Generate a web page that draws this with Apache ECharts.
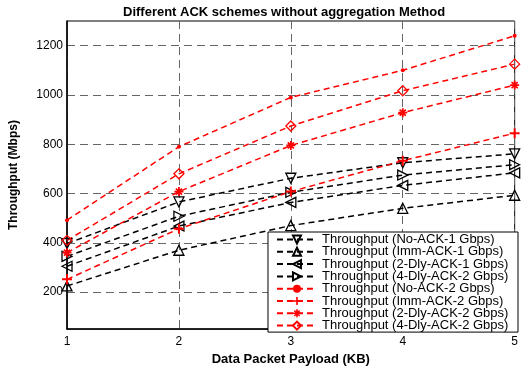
<!DOCTYPE html>
<html><head><meta charset="utf-8">
<script src="https://cdn.jsdelivr.net/npm/echarts@6/dist/echarts.min.js"></script>
<style>html,body{margin:0;padding:0;background:#fff}#c{width:521px;height:371px}</style>
</head><body><div id="c"></div>
<script>
var payloadKB = [1, 2, 3, 4, 5];
var yTicks = [200, 400, 600, 800, 1000, 1200];
var noAck1   = [397, 566, 662, 725, 761];
var immAck1  = [225, 370, 470, 540, 593];
var dly2Ack1 = [305, 468, 564, 633, 684];
var dly4Ack1 = [345, 508, 605, 675, 717];
var noAck2   = [492, 790, 990, 1100, 1240];
var immAck2  = [252, 457, 608, 733, 845];
var dly2Ack2 = [360, 608, 795, 928, 1040];
var dly4Ack2 = [410, 680, 874, 1017, 1125];
var names = [
  'Throughput (No-ACK-1 Gbps)',
  'Throughput (Imm-ACK-1 Gbps)',
  'Throughput (2-Dly-ACK-1 Gbps)',
  'Throughput (4-Dly-ACK-2 Gbps)',
  'Throughput (No-ACK-2 Gbps)',
  'Throughput (Imm-ACK-2 Gbps)',
  'Throughput (2-Dly-ACK-2 Gbps)',
  'Throughput (4-Dly-ACK-2 Gbps) '
];

function pairs(v){ return payloadKB.map(function(x,i){ return [x, v[i]]; }); }
var plusPath = 'path://M4,0 L6,0 L6,4 L10,4 L10,6 L6,6 L6,10 L4,10 L4,6 L0,6 L0,4 L4,4 Z';
var starPath = 'path://M4,0 L6,0 L6,2.5 L8,1 L9,2.5 L7,4 L10,4 L10,6 L7,6 L9,7.5 L8,9 L6,7.5 L6,10 L4,10 L4,7.5 L2,9 L1,7.5 L3,6 L0,6 L0,4 L3,4 L1,2.5 L2,1 L4,2.5 Z';

function mk(name, data, color, symbol, size, rot, hollow){
  return {
    name: name, type: 'line', data: pairs(data),
    symbol: symbol, symbolSize: size, symbolRotate: rot || 0,
    showAllSymbol: true,
    lineStyle: {color: color, width: 1.5, type: [6, 4]},
    itemStyle: hollow ? {color: 'rgba(255,255,255,0)', borderColor: color, borderWidth: 1.3} : {color: color, borderWidth: 0},
    emphasis: {disabled: true},
    animation: false
  };
}

var chart = echarts.init(document.getElementById('c'));
var ff = 'Liberation Sans, Arial';
var legendData = names.map(function(n, i){
  return i === 4 ? {name: n, icon: 'path://M0,0 L10,0 L10,10 L0,10 Z M0,0', itemStyle: {color: 'rgba(0,0,0,0)'}} : n;
});
chart.setOption({
  animation: false,
  title: {
    text: 'Different ACK schemes without aggregation Method',
    left: 118, top: 1,
    textStyle: {fontFamily: ff, fontWeight: 'bold', fontSize: 13, color: '#000'}
  },
  grid: {left: 64, right: 3, top: 21, bottom: 39, show: true, borderColor: '#000', borderWidth: 1, backgroundColor: 'transparent'},
  xAxis: {
    type: 'value', min: 1, max: 5, interval: 1,
    name: 'Data Packet Payload (KB)', nameLocation: 'middle', nameGap: 21,
    nameTextStyle: {fontFamily: ff, fontWeight: 'bold', fontSize: 13, color: '#000'},
    axisLine: {show: true, lineStyle: {color: '#000', width: 1.5}},
    axisTick: {show: false},
    axisLabel: {color: '#000', fontFamily: ff, fontSize: 12, margin: 7},
    splitLine: {show: true, lineStyle: {color: '#666', width: 1, type: [8, 5]}}
  },
  yAxis: {
    type: 'value', min: 50, max: 1300,
    name: 'Throughput (Mbps)', nameLocation: 'middle', nameGap: 47,
    nameTextStyle: {fontFamily: ff, fontWeight: 'bold', fontSize: 12, color: '#000'},
    axisLine: {show: true, lineStyle: {color: '#000', width: 1.5}},
    axisTick: {show: false, customValues: yTicks},
    axisLabel: {color: '#000', fontFamily: ff, fontSize: 12, margin: 4, customValues: yTicks,
      formatter: function(v){ return String(v); }},
    splitLine: {show: true, lineStyle: {color: '#666', width: 1, type: [8, 5]}}
  },
  legend: {
    show: true, orient: 'vertical', right: 3, top: 232,
    itemWidth: 40, itemHeight: 10, itemGap: -0.7,
    padding: [1, 6, 0, 8],
    backgroundColor: '#fff', borderColor: '#000', borderWidth: 1,
    textStyle: {fontFamily: ff, fontSize: 13, color: '#000', lineHeight: 12},
    data: names
  },
  series: [
    mk(names[0], noAck1,   '#000', 'triangle', 10, 180, true),
    mk(names[1], immAck1,  '#000', 'triangle', 10, 0, true),
    mk(names[2], dly2Ack1, '#000', 'triangle', 10, 90, true),
    mk(names[3], dly4Ack1, '#000', 'triangle', 10, -90, true),
    mk(names[4], noAck2,   '#ff0000', 'circle', 4, 0, false),
    mk(names[5], immAck2,  '#ff0000', plusPath, 10, 0, false),
    mk(names[6], dly2Ack2, '#ff0000', starPath, 9, 0, false),
    mk(names[7], dly4Ack2, '#ff0000', 'diamond', 10, 0, true)
  ]
});
</script></body></html>
